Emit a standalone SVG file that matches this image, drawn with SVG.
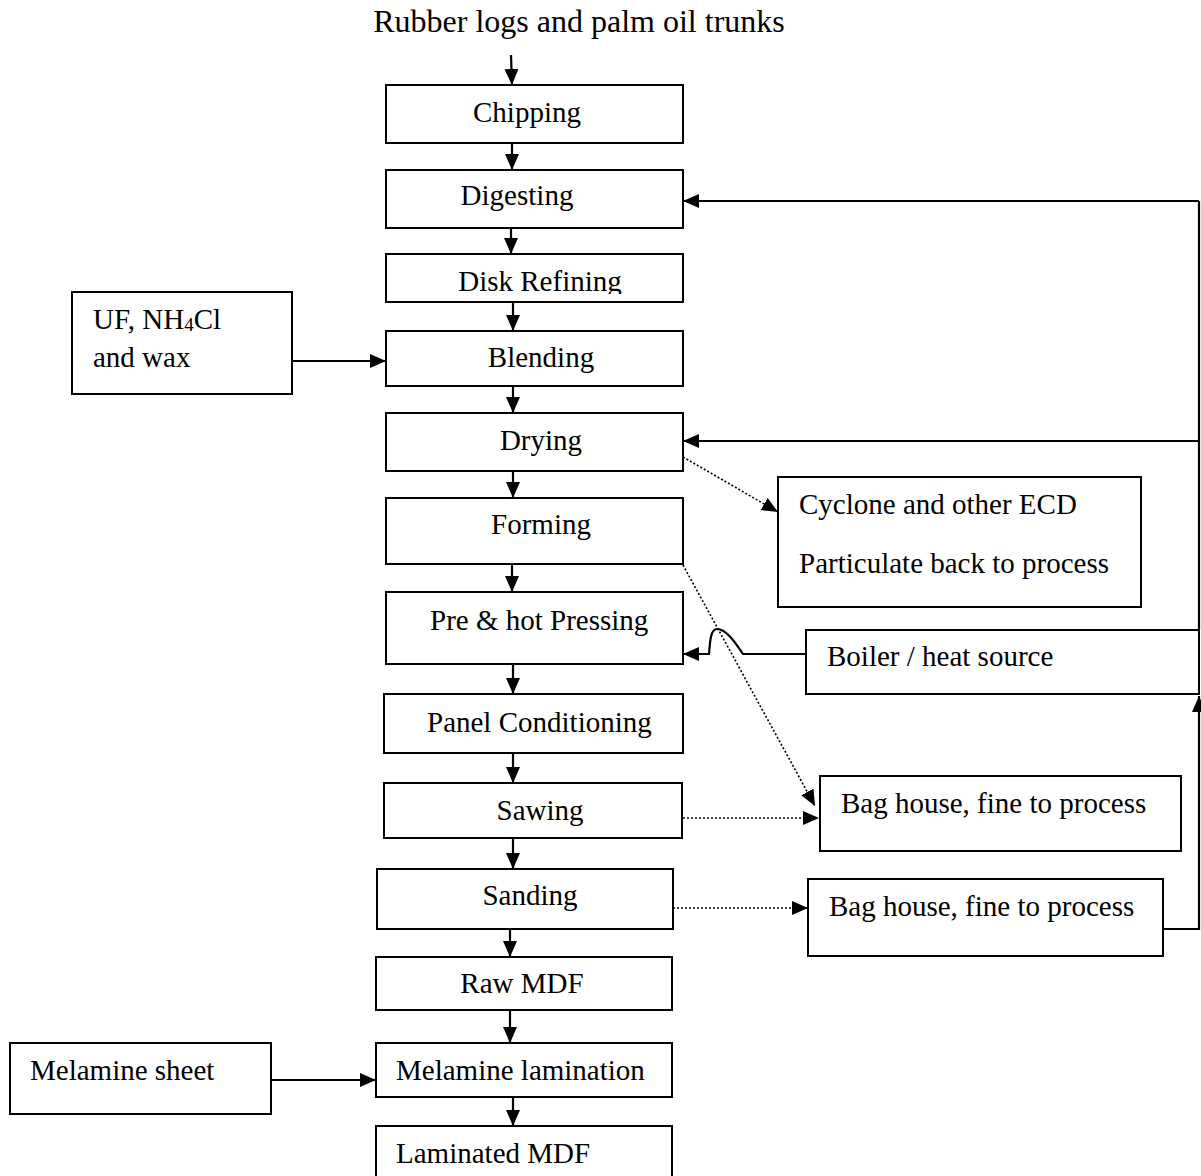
<svg xmlns="http://www.w3.org/2000/svg" width="1201" height="1176" viewBox="0 0 1201 1176">
<style>
.box{fill:#fff;stroke:#000;stroke-width:2}
.t{font-family:"Liberation Serif","Times New Roman",serif;font-size:29px;fill:#000}
.c{text-anchor:middle}
.ln{fill:none;stroke:#000;stroke-width:2.2}
.dot{fill:none;stroke:#000;stroke-width:1.6;stroke-dasharray:2,2}
</style>
<defs>
<marker id="ah" markerUnits="userSpaceOnUse" markerWidth="16" markerHeight="14" refX="16" refY="7" orient="auto">
<path d="M0,0 L16,7 L0,14 z" fill="#000"/>
</marker>
<clipPath id="clipDisk"><rect x="386" y="254" width="297" height="40"/></clipPath>
</defs>
<rect width="1201" height="1176" fill="#fff"/>

<g id="connectors">
<line class="ln" x1="511" y1="55" x2="512" y2="85" marker-end="url(#ah)"/>
<line class="ln" x1="512" y1="143" x2="512" y2="170" marker-end="url(#ah)"/>
<line class="ln" x1="511" y1="228" x2="511" y2="254" marker-end="url(#ah)"/>
<line class="ln" x1="513" y1="302" x2="513" y2="331" marker-end="url(#ah)"/>
<line class="ln" x1="513" y1="386" x2="513" y2="413" marker-end="url(#ah)"/>
<line class="ln" x1="513" y1="471" x2="513" y2="498" marker-end="url(#ah)"/>
<line class="ln" x1="512" y1="564" x2="512" y2="592" marker-end="url(#ah)"/>
<line class="ln" x1="513" y1="664" x2="513" y2="694" marker-end="url(#ah)"/>
<line class="ln" x1="513" y1="753" x2="513" y2="783" marker-end="url(#ah)"/>
<line class="ln" x1="513" y1="838" x2="513" y2="869" marker-end="url(#ah)"/>
<line class="ln" x1="510" y1="929" x2="510" y2="957" marker-end="url(#ah)"/>
<line class="ln" x1="510" y1="1010" x2="510" y2="1043" marker-end="url(#ah)"/>
<line class="ln" x1="513" y1="1097" x2="513" y2="1126" marker-end="url(#ah)"/>
<line class="ln" x1="292" y1="361" x2="386" y2="361" marker-end="url(#ah)"/>
<line class="ln" x1="271" y1="1080" x2="376" y2="1080" marker-end="url(#ah)"/>
<path class="ln" d="M1163,929 H1199 V696" marker-end="url(#ah)"/>
<path class="ln" d="M1199,630 V201"/>
<path class="ln" d="M1199,201 H683" marker-end="url(#ah)"/>
<path class="ln" d="M1199,441 H683" marker-end="url(#ah)"/>
<path class="ln" d="M806,654 L743,654 C735,642 726,629 717,629 C711,629 710,640 709,654 L683,654" marker-end="url(#ah)"/>
<line class="dot" x1="683" y1="457" x2="778" y2="512" marker-end="url(#ah)"/>
<line class="dot" x1="683" y1="565" x2="815" y2="806" marker-end="url(#ah)"/>
<line class="dot" x1="683" y1="818" x2="819" y2="818" marker-end="url(#ah)"/>
<line class="dot" x1="673" y1="908" x2="808" y2="908" marker-end="url(#ah)"/>
</g>

<text id="title" class="t c" x="579" y="32" style="font-size:32px">Rubber logs and palm oil trunks</text>

<g id="chipping"><rect class="box" x="386" y="85" width="297" height="58"/><text class="t c" x="527" y="122">Chipping</text></g>
<g id="digesting"><rect class="box" x="386" y="170" width="297" height="58"/><text class="t c" x="517" y="205">Digesting</text></g>
<g id="disk-refining"><rect class="box" x="386" y="254" width="297" height="48"/><text class="t c" x="540" y="291" clip-path="url(#clipDisk)">Disk Refining</text></g>
<g id="blending"><rect class="box" x="386" y="331" width="297" height="55"/><text class="t c" x="541" y="367">Blending</text></g>
<g id="drying"><rect class="box" x="386" y="413" width="297" height="58"/><text class="t c" x="541" y="450">Drying</text></g>
<g id="forming"><rect class="box" x="386" y="498" width="297" height="66"/><text class="t c" x="541" y="534">Forming</text></g>
<g id="pressing"><rect class="box" x="386" y="592" width="297" height="72"/><text class="t" x="430" y="630">Pre &amp; hot Pressing</text></g>
<g id="panel-conditioning"><rect class="box" x="384" y="694" width="299" height="59"/><text class="t" x="427" y="732">Panel Conditioning</text></g>
<g id="sawing"><rect class="box" x="384" y="783" width="298" height="55"/><text class="t c" x="540" y="820">Sawing</text></g>
<g id="sanding"><rect class="box" x="377" y="869" width="296" height="60"/><text class="t c" x="530" y="905">Sanding</text></g>
<g id="raw-mdf"><rect class="box" x="376" y="957" width="296" height="53"/><text class="t c" x="522" y="993">Raw MDF</text></g>
<g id="melamine-lamination"><rect class="box" x="376" y="1043" width="296" height="54"/><text class="t" x="396" y="1080">Melamine lamination</text></g>
<g id="laminated-mdf"><rect class="box" x="376" y="1126" width="296" height="70"/><text class="t" x="396" y="1163">Laminated MDF</text></g>
<g id="uf-input"><rect class="box" x="72" y="292" width="220" height="102"/><text class="t" x="93" y="329">UF, NH<tspan style="font-size:19px" dy="2">4</tspan><tspan dy="-2">Cl</tspan></text><text class="t" x="93" y="367">and wax</text></g>
<g id="melamine-sheet"><rect class="box" x="10" y="1043" width="261" height="71"/><text class="t" x="30" y="1080">Melamine sheet</text></g>
<g id="cyclone"><rect class="box" x="778" y="477" width="363" height="130"/><text class="t" x="799" y="514">Cyclone and other ECD</text><text class="t" x="799" y="573">Particulate back to process</text></g>
<g id="boiler"><rect class="box" x="806" y="630" width="393" height="64"/><text class="t" x="827" y="666">Boiler / heat source</text></g>
<g id="baghouse-1"><rect class="box" x="820" y="776" width="361" height="75"/><text class="t" x="841" y="813">Bag house, fine to process</text></g>
<g id="baghouse-2"><rect class="box" x="808" y="879" width="355" height="77"/><text class="t" x="829" y="916">Bag house, fine to process</text></g>
</svg>
